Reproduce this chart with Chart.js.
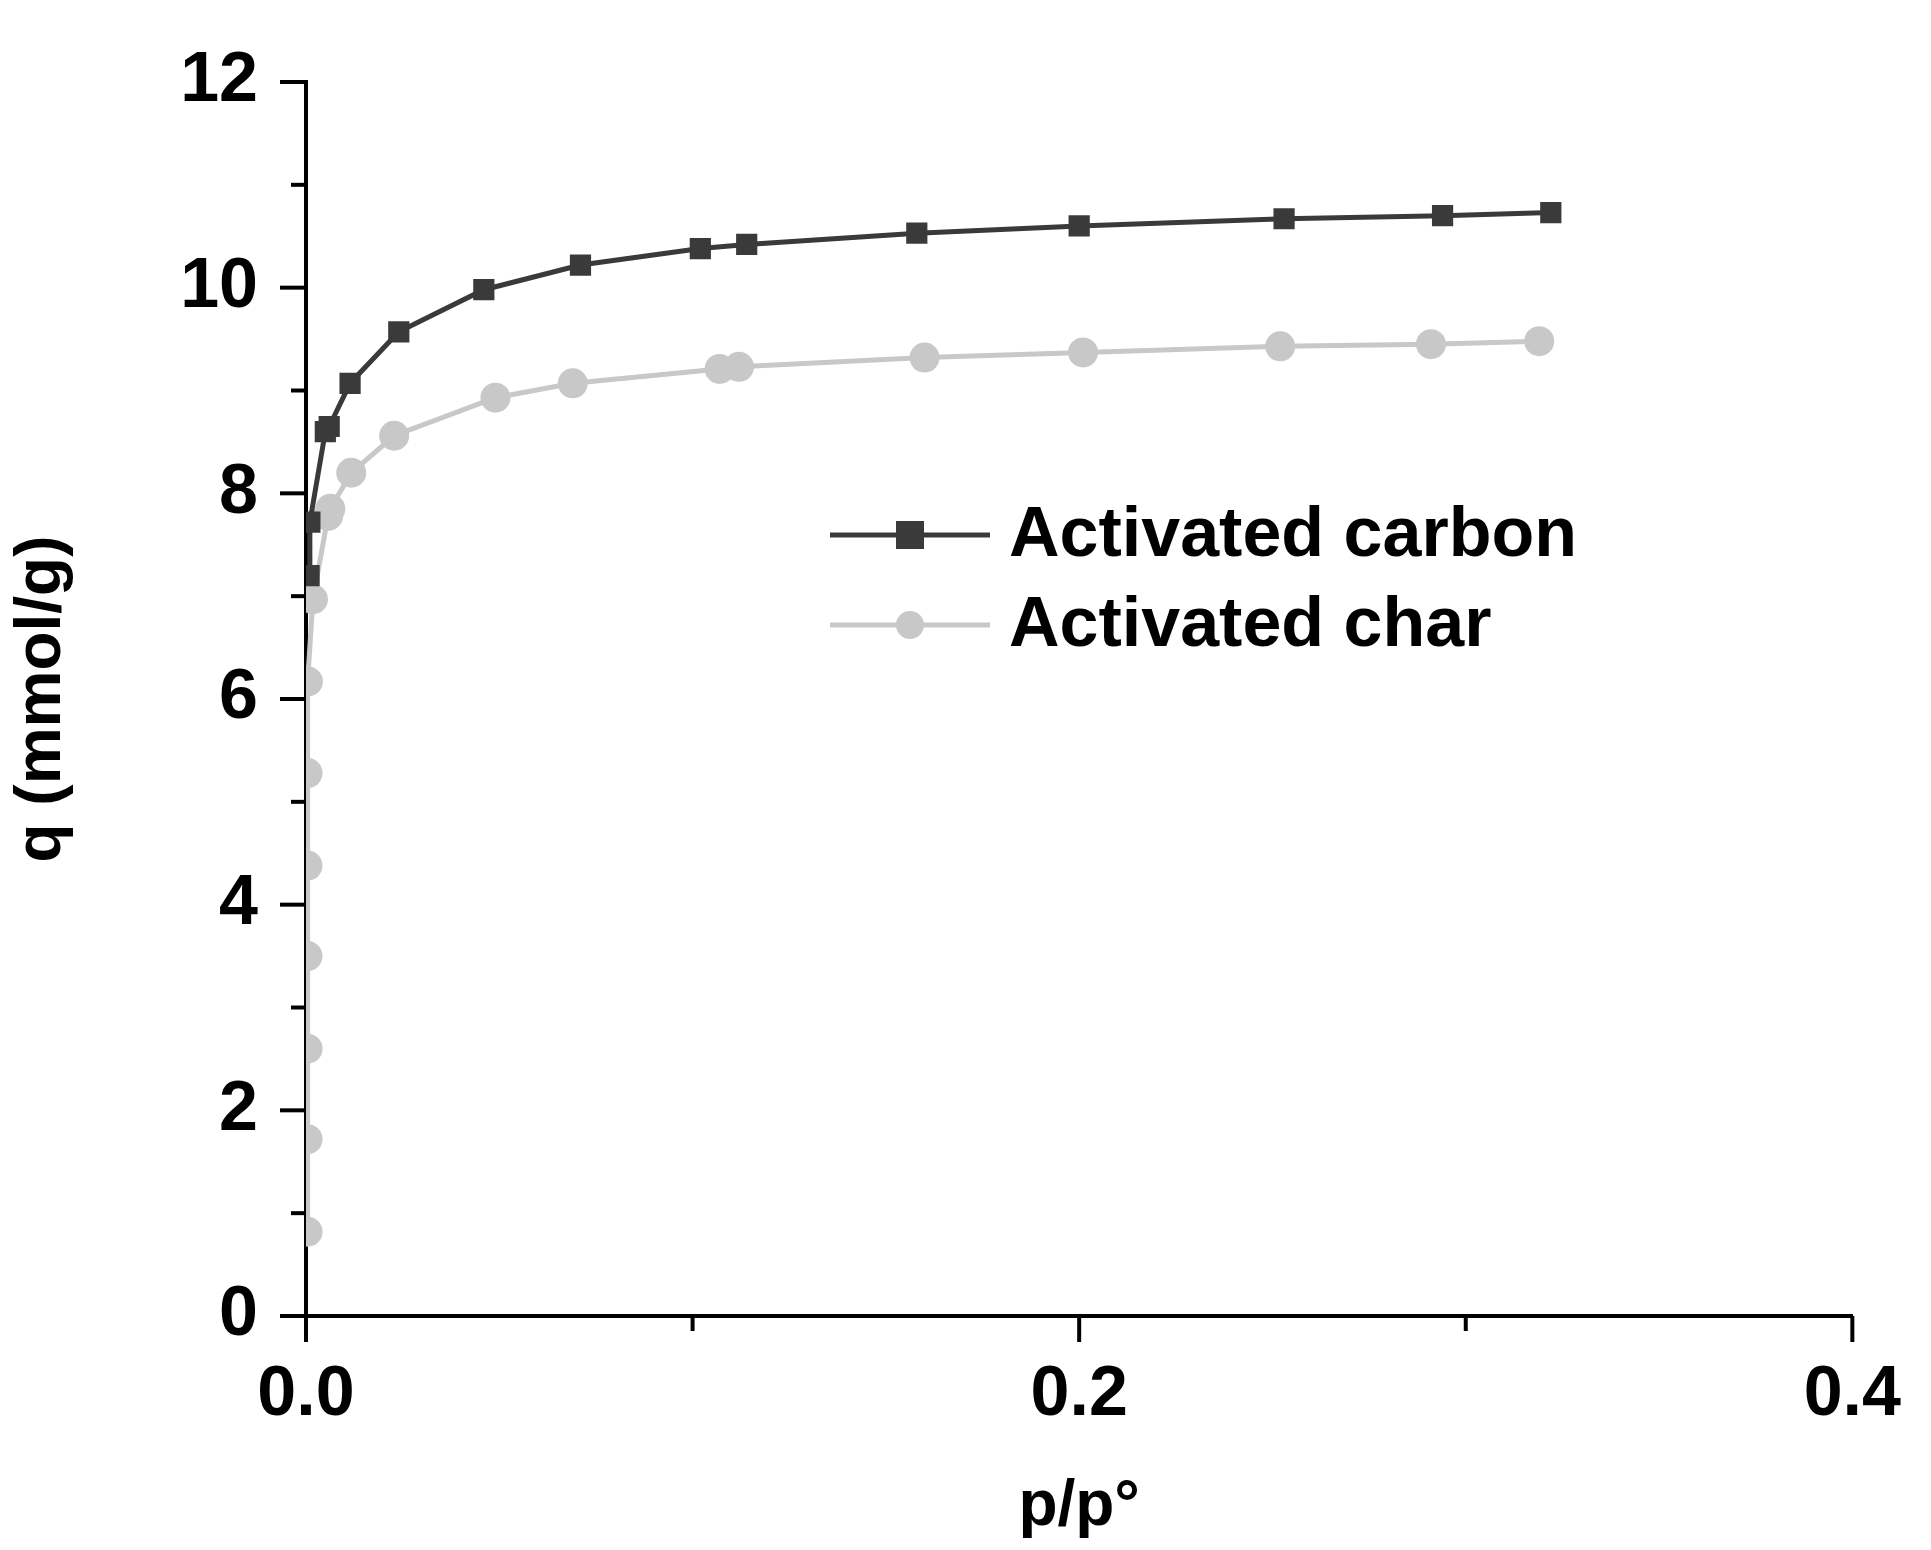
<!DOCTYPE html>
<html><head><meta charset="utf-8">
<script src="https://cdn.jsdelivr.net/npm/chart.js@4"></script>
<style>html,body{margin:0;padding:0;background:#fff}#wrap{width:1931px;height:1550px}</style>
</head><body><div id="wrap"><canvas id="c" width="1931" height="1550"></canvas></div>
<script>
const carbonX = [0.0008, 0.001, 0.005, 0.006, 0.0114, 0.024, 0.046, 0.071, 0.102, 0.114, 0.158, 0.2, 0.253, 0.294, 0.322];
const carbonY = [7.2, 7.72, 8.6, 8.65, 9.07, 9.57, 9.98, 10.22, 10.38, 10.42, 10.53, 10.6, 10.67, 10.7, 10.73];
const charX = [0.0004, 0.0004, 0.0004, 0.0004, 0.0004, 0.0004, 0.0005, 0.0018, 0.0057, 0.0063, 0.0117, 0.0228, 0.049, 0.069, 0.107, 0.112, 0.16, 0.201, 0.252, 0.291, 0.319];
const charY = [0.82, 1.72, 2.6, 3.5, 4.38, 5.28, 6.17, 6.97, 7.78, 7.85, 8.2, 8.56, 8.93, 9.07, 9.21, 9.23, 9.32, 9.37, 9.43, 9.45, 9.48];
const xTicks = [0.0, 0.2, 0.4];
const yTicks = [0, 2, 4, 6, 8, 10, 12];
const seriesNames = ['Activated carbon', 'Activated char'];

const F = 'Liberation Sans, Arial, sans-serif';
const tickPlugin = {
  id: 'ticks',
  afterDraw(chart) {
    const ctx = chart.ctx, x = chart.scales.x, y = chart.scales.y;
    ctx.save(); ctx.strokeStyle = '#000'; ctx.lineWidth = 4;
    for (let v = 0; v <= 12.001; v += 1) {
      const p = y.getPixelForValue(v), L = (Math.round(v) % 2 === 0) ? 26 : 15;
      ctx.beginPath(); ctx.moveTo(x.left, p); ctx.lineTo(x.left - L, p); ctx.stroke();
    }
    for (let v = 0; v <= 0.4001; v += 0.1) {
      const p = x.getPixelForValue(v), L = (Math.round(v * 10) % 2 === 0) ? 26 : 15;
      ctx.beginPath(); ctx.moveTo(p, y.bottom); ctx.lineTo(p, y.bottom + L); ctx.stroke();
    }
    ctx.restore();
  }
};

new Chart(document.getElementById('c'), {
  type: 'line',
  data: {
    datasets: [
      { label: seriesNames[0], data: carbonX.map((v, i) => ({x: v, y: carbonY[i]})),
        borderColor: '#3a3a3a', backgroundColor: '#3a3a3a', borderWidth: 5,
        pointStyle: 'rect', pointRadius: 15, pointBorderWidth: 0 },
      { label: seriesNames[1], data: charX.map((v, i) => ({x: v, y: charY[i]})),
        borderColor: '#c8c8c8', backgroundColor: '#c8c8c8', borderWidth: 5,
        pointStyle: 'circle', pointRadius: 15, pointBorderWidth: 0 }
    ]
  },
  options: {
    responsive: false, animation: false,
    layout: { padding: { top: 26, right: 48, left: 0, bottom: 0 } },
    plugins: { tooltip: { enabled: false }, legend: { display: false } },
    scales: {
      x: {
        type: 'linear', min: 0, max: 0.4,
        afterBuildTicks: s => { s.ticks = xTicks.map(v => ({value: v})); },
        afterFit: s => { s.height = 234; },
        grid: { display: false },
        border: { display: true, color: '#000', width: 4 },
        ticks: { padding: 30, color: '#000', font: { family: F, size: 70, weight: 'bold' }, callback: v => v.toFixed(1) },
        title: { display: true, text: 'p/p°', color: '#000', font: { family: F, size: 64, weight: 'bold' }, padding: { top: 40 } }
      },
      y: {
        min: 0, max: 12,
        afterBuildTicks: s => { s.ticks = yTicks.map(v => ({value: v})); },
        afterFit: s => { s.width = 306; },
        grid: { display: false },
        border: { display: true, color: '#000', width: 4 },
        ticks: { padding: 40, color: '#000', font: { family: F, size: 70, weight: 'bold' } },
        title: { display: true, text: 'q (mmol/g)', color: '#000', font: { family: F, size: 64, weight: 'bold' }, padding: { bottom: 40 } }
      }
    }
  },
  plugins: [tickPlugin, {
    id: 'legendDraw',
    afterDraw(chart) {
      const ctx = chart.ctx;
      const items = [[535, '#3a3a3a', 'rect'], [625, '#c8c8c8', 'circle']];
      items.forEach((it, i) => {
        const [yy, col, shape] = it;
        ctx.save(); ctx.strokeStyle = col; ctx.fillStyle = col; ctx.lineWidth = 5;
        ctx.beginPath(); ctx.moveTo(830, yy); ctx.lineTo(990, yy); ctx.stroke();
        if (shape === 'rect') ctx.fillRect(896, yy - 14, 28, 28);
        else { ctx.beginPath(); ctx.arc(910, yy, 14, 0, Math.PI * 2); ctx.fill(); }
        ctx.fillStyle = '#000'; ctx.font = 'bold 70px ' + F; ctx.textBaseline = 'middle';
        ctx.fillText(seriesNames[i], 1009, yy + 2);
        ctx.restore();
      });
    }
  }]
});
</script></body></html>
